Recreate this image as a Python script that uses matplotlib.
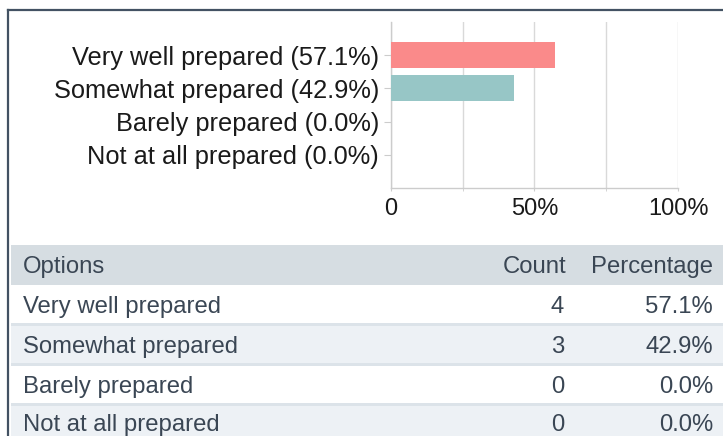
import matplotlib.pyplot as plt
from matplotlib.patches import Rectangle
from matplotlib.lines import Line2D

# survey results
options = ['Very well prepared', 'Somewhat prepared', 'Barely prepared', 'Not at all prepared']
counts = [4, 3, 0, 0]
percents = [57.1, 42.9, 0.0, 0.0]
bar_colors = ['#fa8a8a', '#97c6c6', '#f2c46b', '#9fb5d6']
x_ticks = [0, 50, 100]
x_labels = ['0', '50%', '100%']
headers = ['Options', 'Count', 'Percentage']

plt.rcParams['font.family'] = ['Liberation Sans', 'DejaVu Sans']

W, H = 723, 436
fig = plt.figure(figsize=(W / 100, H / 100), dpi=100)

def fx(px):
    return px / W

def fy(py):
    return 1 - py / H

# outer frame (top + left)
fig.add_artist(Line2D([fx(8), fx(723)], [fy(10), fy(10)], color='#435263', lw=1.6))
fig.add_artist(Line2D([fx(8), fx(8)], [fy(10), fy(436)], color='#435263', lw=1.6))

# bar chart
ax = fig.add_axes([fx(390.7), fy(188), fx(678) - fx(390.7), fy(22) - fy(188)])
labels = [f'{o} ({p:.1f}%)' for o, p in zip(options, percents)]
ypos = list(range(len(options)))
ax.barh(ypos, percents, height=0.78, color=bar_colors[:len(options)], zorder=3)
ax.set_xlim(0, 100)
ax.set_ylim(4, -1)
ax.set_yticks(ypos)
ax.set_yticklabels(labels, fontsize=18.3, color='#1a1a1a')
ax.set_xticks(x_ticks)
ax.set_xticklabels(x_labels, fontsize=17, color='#1a1a1a')
ax.set_xticks([25, 75], minor=True)
ax.grid(axis='x', which='both', color='#d9d9d9', lw=1, zorder=0)
ax.tick_params(axis='y', length=5, color='#cccccc', pad=3.5)
ax.tick_params(axis='x', which='both', length=2, color='#cccccc', pad=5.5)
for s in ['top', 'right']:
    ax.spines[s].set_visible(False)
for s in ['left', 'bottom']:
    ax.spines[s].set_color('#cccccc')
    ax.spines[s].set_linewidth(1)

# table below the chart
row_edges = [245, 285, 324, 364, 404, 445]
row_bg = ['#d6dde2', '#ffffff', '#edf1f5', '#ffffff', '#edf1f5']
text_col = '#3a4654'
for i in range(len(row_bg)):
    top, bot = row_edges[i], row_edges[i + 1]
    fig.add_artist(Rectangle((fx(11), fy(bot)), fx(723) - fx(11), fy(top) - fy(bot),
                             facecolor=row_bg[i], edgecolor='none'))
    if i >= 2:
        fig.add_artist(Rectangle((fx(11), fy(top + 1.5)), fx(723) - fx(11), fy(top - 1.5) - fy(top + 1.5),
                                 facecolor='#dce3e9', edgecolor='none'))

fs = 17.2
hb = 273
fig.text(fx(23), fy(hb), headers[0], fontsize=fs, color=text_col, va='baseline', ha='left')
fig.text(fx(566), fy(hb), headers[1], fontsize=fs, color=text_col, va='baseline', ha='right')
fig.text(fx(713), fy(hb), headers[2], fontsize=fs, color=text_col, va='baseline', ha='right')

row_base = [313, 353, 393, 431]
for o, c, p, y in zip(options, counts, percents, row_base):
    fig.text(fx(23), fy(y), o, fontsize=fs, color=text_col, va='baseline', ha='left')
    fig.text(fx(564), fy(y), str(c), fontsize=fs, color=text_col, va='baseline', ha='right')
    fig.text(fx(713), fy(y), f'{p:.1f}%', fontsize=fs, color=text_col, va='baseline', ha='right')

fig.savefig('out.png', dpi=100)
